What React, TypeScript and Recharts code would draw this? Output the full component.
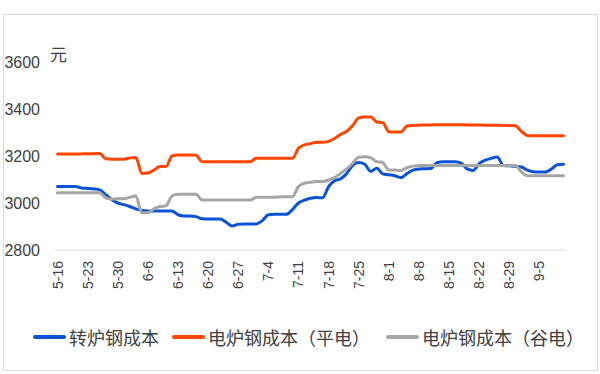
import React from 'react';
import { LineChart, Line, XAxis, YAxis, Legend } from 'recharts';

const dates = [
  '5-16', '5-17', '5-18', '5-19', '5-20',
  '5-23', '5-24', '5-25', '5-26', '5-27',
  '5-30', '5-31', '6-1', '6-2', '6-3',
  '6-6', '6-7', '6-8', '6-9', '6-10',
  '6-13', '6-14', '6-15', '6-16', '6-17',
  '6-20', '6-21', '6-22', '6-23', '6-24',
  '6-27', '6-28', '6-29', '6-30', '7-1',
  '7-4', '7-5', '7-6', '7-7', '7-8',
  '7-11', '7-12', '7-13', '7-14', '7-15',
  '7-18', '7-19', '7-20', '7-21', '7-22',
  '7-25', '7-26', '7-27', '7-28', '7-29',
  '8-1', '8-2', '8-3', '8-4', '8-5',
  '8-8', '8-9', '8-10', '8-11', '8-12',
  '8-15', '8-16', '8-17', '8-18', '8-19',
  '8-22', '8-23', '8-24', '8-25', '8-26',
  '8-29', '8-30', '8-31', '9-1', '9-2',
  '9-5', '9-6', '9-7', '9-8', '9-9',
];

// 转炉钢成本
const converterCost = [
  3070, 3070, 3070, 3070, 3064,
  3062, 3060, 3056, 3035, 3015,
  3000, 2993, 2985, 2975, 2968,
  2966, 2966, 2966, 2966, 2966,
  2950, 2945, 2945, 2942, 2933,
  2932, 2932, 2932, 2918, 2902,
  2910, 2911, 2911, 2911, 2925,
  2950, 2952, 2952, 2952, 2972,
  3000, 3012, 3020, 3023, 3022,
  3070, 3095, 3103, 3125, 3160,
  3172, 3165, 3135, 3148, 3124,
  3120, 3116, 3108, 3125, 3140,
  3145, 3146, 3147, 3172, 3176,
  3176, 3176, 3170, 3145, 3138,
  3168, 3182, 3190, 3196, 3160,
  3158, 3156, 3153, 3140, 3133,
  3132, 3132, 3145, 3163, 3165,
];

// 电炉钢成本（平电）
const eafFlatCost = [
  3208, 3208, 3208, 3208, 3209,
  3210, 3210, 3211, 3188, 3186,
  3186, 3186, 3192, 3194, 3126,
  3128, 3140, 3155, 3155, 3200,
  3204, 3204, 3204, 3203, 3176,
  3176, 3176, 3176, 3176, 3176,
  3176, 3176, 3176, 3190, 3190,
  3190, 3190, 3190, 3190, 3190,
  3233, 3247, 3253, 3258, 3258,
  3262, 3275, 3292, 3305, 3330,
  3362, 3366, 3366, 3345, 3342,
  3303, 3302, 3302, 3328, 3330,
  3331, 3332, 3332, 3333, 3333,
  3333, 3333, 3333, 3332, 3332,
  3332, 3331, 3331, 3331, 3330,
  3330, 3329, 3305, 3287, 3286,
  3286, 3286, 3286, 3286, 3286,
];

// 电炉钢成本（谷电）
const eafValleyCost = [
  3044, 3044, 3044, 3044, 3044,
  3044, 3044, 3044, 3022, 3017,
  3018, 3018, 3024, 3030, 2959,
  2958, 2975, 2985, 2988, 3030,
  3037, 3037, 3037, 3037, 3013,
  3013, 3013, 3013, 3013, 3013,
  3013, 3013, 3013, 3024, 3024,
  3025, 3025, 3026, 3027, 3027,
  3070, 3084, 3088, 3091, 3091,
  3098, 3108, 3126, 3145, 3169,
  3195, 3197, 3192, 3176, 3172,
  3140, 3140, 3138, 3150, 3157,
  3160, 3160, 3160, 3160, 3160,
  3160, 3160, 3160, 3160, 3160,
  3160, 3160, 3160, 3160, 3160,
  3160, 3160, 3132, 3116, 3116,
  3116, 3116, 3116, 3116, 3116,
];

const yTicks = [2800, 3000, 3200, 3400, 3600];
const seriesKeys = ['converter', 'eafFlat', 'eafValley'];
const seriesNames = ['转炉钢成本', '电炉钢成本（平电）', '电炉钢成本（谷电）'];
const seriesColors = ['#0A52D6', '#FF4500', '#A6A6A6'];
const unitLabel = '元';

const data = dates.map((d, i) => ({
  date: d,
  converter: converterCost[i],
  eafFlat: eafFlatCost[i],
  eafValley: eafValleyCost[i],
}));

const latinFont = '"Liberation Sans", Arial, sans-serif';
const cjkFont = '"Noto Sans CJK SC", "Liberation Sans", sans-serif';

const XTick = (props: any) => {
  const { x, y, payload } = props;
  return (
    <text
      x={x}
      y={y}
      transform={`rotate(-90, ${x}, ${y})`}
      textAnchor="end"
      dy="0.36em"
      style={{ fontSize: 14, fontFamily: latinFont }}
      fill="#404040"
    >
      {payload.value}
    </text>
  );
};

const YTick = (props: any) => {
  const { x, y, payload } = props;
  return (
    <text
      x={x}
      y={y}
      textAnchor="end"
      dy="0.36em"
      style={{ fontSize: 16, fontFamily: latinFont }}
      fill="#404040"
    >
      {payload.value}
    </text>
  );
};

const legendLefts = [33, 172, 386];

const renderLegend = () => (
  <div style={{ position: 'relative', width: 600, height: 74 }}>
    {seriesNames.map((n, i) => (
      <div
        key={n}
        style={{
          position: 'absolute',
          left: legendLefts[i],
          top: 0,
          height: 74,
          display: 'flex',
          alignItems: 'center',
          whiteSpace: 'nowrap',
        }}
      >
        <span
          style={{
            display: 'inline-block',
            width: 33,
            height: 4,
            borderRadius: 2,
            background: seriesColors[i],
            marginRight: 3,
          }}
        />
        <span style={{ fontSize: 18, lineHeight: '20px', color: '#404040', fontFamily: cjkFont }}>{n}</span>
      </div>
    ))}
  </div>
);

export default function App() {
  return (
    <div style={{ position: 'absolute', left: 0, top: 0, width: 600, height: 374, background: '#fff' }}>
      <div
        style={{
          position: 'absolute',
          left: 3,
          top: 14,
          width: 593,
          height: 355,
          border: '1px solid #d9d9d9',
        }}
      />
      <LineChart
        width={600}
        height={374}
        data={data}
        margin={{ top: 62, right: 34, bottom: 0, left: 0 }}
      >
        <XAxis
          dataKey="date"
          interval={4}
          tick={<XTick />}
          tickLine={false}
          tickSize={0}
          tickMargin={11}
          height={50}
          padding={{ left: 2.5, right: 2.5 }}
          axisLine={{ stroke: '#d9d9d9', strokeWidth: 1 }}
        />
        <YAxis
          domain={[2800, 3600]}
          ticks={yTicks}
          width={55}
          axisLine={false}
          tickLine={false}
          tickSize={0}
          tickMargin={15}
          tick={<YTick />}
        />
        <Legend
          verticalAlign="bottom"
          align="left"
          height={74}
          content={renderLegend}
          wrapperStyle={{ left: 0, bottom: 0, width: 600, height: 74 }}
        />
        {seriesKeys.map((k, i) => (
          <Line
            key={k}
            dataKey={k}
            name={seriesNames[i]}
            type="monotone"
            stroke={seriesColors[i]}
            strokeWidth={3}
            strokeLinecap="round"
            strokeLinejoin="round"
            dot={false}
            activeDot={false}
            isAnimationActive={false}
          />
        ))}
      </LineChart>
      <span
        style={{
          position: 'absolute',
          left: 50,
          top: 45,
          fontSize: 17,
          lineHeight: '17px',
          color: '#404040',
          fontFamily: cjkFont,
        }}
      >
        {unitLabel}
      </span>
    </div>
  );
}
